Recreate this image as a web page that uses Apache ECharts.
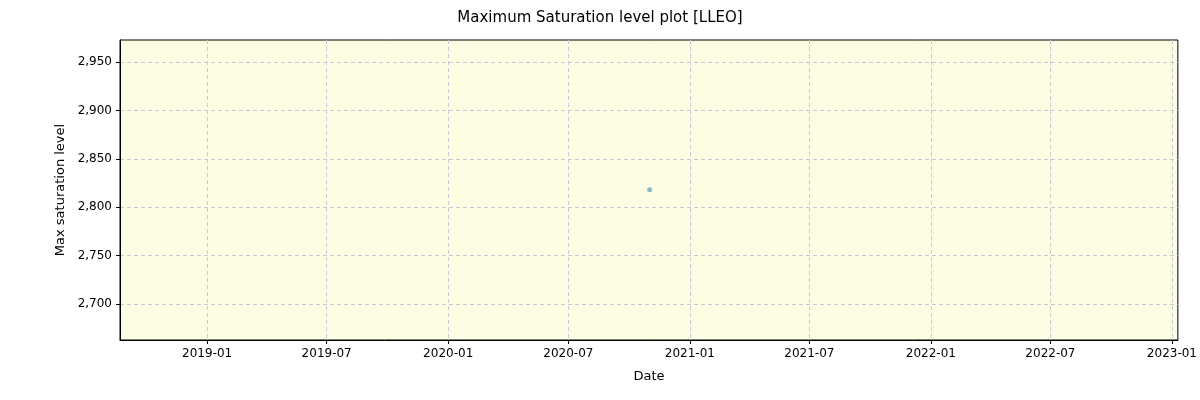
<!DOCTYPE html>
<html><head><meta charset="utf-8">
<script src="https://cdn.jsdelivr.net/npm/echarts@6/dist/echarts.min.js"></script>
<style>html,body{margin:0;padding:0;background:#fff}#c{width:1200px;height:400px}</style>
</head><body><div id="c"></div>
<script>
const dates = ['2020-11-01'];
const values = [2818];
const xTicks = ['2019-01-01','2019-07-01','2020-01-01','2020-07-01','2021-01-01','2021-07-01','2022-01-01','2022-07-01','2023-01-01'];
const yTicks = [2700,2750,2800,2850,2900,2950];
const xMin = '2018-08-22', xMax = '2023-01-10';
const yMin = 2662.8, yMax = 2972.7;

const ts = s => new Date(s + 'T00:00:00Z').getTime();
const tickTs = xTicks.map(ts);
const chart = echarts.init(document.getElementById('c'));
const font = 'DejaVu Sans';
chart.setOption({
  animation:false,
  title:{text:'Maximum Saturation level plot [LLEO]',left:'center',top:6,textStyle:{fontFamily:font,fontSize:15,fontWeight:'normal',color:'#000'}},
  grid:{left:120,right:13,top:40,bottom:60,show:true,backgroundColor:'#fdfde3',borderColor:'#000',borderWidth:1},
  xAxis:{type:'value',min:ts(xMin),max:ts(xMax),name:'Date',nameLocation:'middle',nameGap:30,
    nameTextStyle:{fontFamily:font,fontSize:13,color:'#000'},
    axisLine:{lineStyle:{color:'#000'}},
    axisTick:{customValues:tickTs,length:4,lineStyle:{color:'#000'}},
    axisLabel:{customValues:tickTs,fontFamily:font,fontSize:12,color:'#000',margin:8,
      formatter:v=>{const d=new Date(v);return d.getUTCFullYear()+'-'+String(d.getUTCMonth()+1).padStart(2,'0');}},
    splitLine:{show:true,lineStyle:{color:'#c8c8d8',type:[4,3]}}},
  yAxis:{type:'value',min:yMin,max:yMax,name:'Max saturation level',nameLocation:'middle',nameGap:52,
    nameTextStyle:{fontFamily:font,fontSize:13,color:'#000'},
    axisLine:{show:true,lineStyle:{color:'#000'}},
    axisTick:{show:true,customValues:yTicks,length:4,lineStyle:{color:'#000'}},
    axisLabel:{customValues:yTicks,fontFamily:font,fontSize:12,color:'#000',margin:8},
    splitLine:{show:true,lineStyle:{color:'#c8c8d8',type:[4,3]}}},
  series:[{type:'scatter',symbolSize:5,itemStyle:{color:'#6aabb9'},
    data:dates.map((d,i)=>[ts(d),values[i]])}]
});
</script></body></html>
